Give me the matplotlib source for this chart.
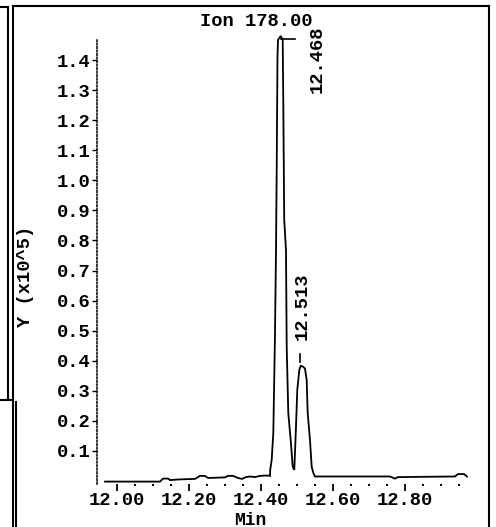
import matplotlib
matplotlib.use('Agg')
import matplotlib.pyplot as plt
from matplotlib.lines import Line2D

# ==================== DATA ====================
# retention time (min) and abundance (x10^5)
time_min = [11.9667, 12.1194, 12.1278, 12.1417, 12.1472, 12.1694, 12.2167, 12.2306,
            12.2444, 12.2528, 12.3000, 12.3083, 12.3222, 12.3361, 12.3472, 12.3583,
            12.3694, 12.3833, 12.3972, 12.4111, 12.4194, 12.4250,
            12.4255, 12.4297, 12.4342, 12.4389, 12.4417, 12.4436, 12.4458, 12.4472,
            12.4547, 12.4603, 12.4618, 12.4645, 12.4694, 12.4714, 12.4758, 12.4825,
            12.4881, 12.4925,
            12.4972, 12.5008, 12.5064, 12.5103, 12.5167, 12.5222, 12.5269, 12.5297,
            12.5361, 12.5408, 12.5453, 12.5500,
            12.5917, 12.7583, 12.7722, 12.7806, 12.9389, 12.9472, 12.9639, 12.9722]
abundance = [-0.002, -0.002, 0.008, 0.008, 0.003, 0.005, 0.007, 0.017,
             0.017, 0.010, 0.012, 0.017, 0.017, 0.010, 0.007, 0.013,
             0.015, 0.013, 0.017, 0.018, 0.018, 0.017,
             0.037, 0.070, 0.160, 0.492, 0.768, 1.034, 1.410, 1.467,
             1.480, 1.467, 1.277, 0.868, 0.768, 0.446, 0.226, 0.136,
             0.047, 0.037,
             0.180, 0.303, 0.369, 0.383, 0.380, 0.374, 0.336, 0.226,
             0.136, 0.047, 0.027, 0.015,
             0.015, 0.015, 0.008, 0.013, 0.015, 0.023, 0.023, 0.015]

peak_labels = ['12.468', '12.513']
peak_label_t = [12.5556, 12.5139]
peak_label_y = [1.290, 0.469]

xtick_vals = [12.0, 12.2, 12.4, 12.6, 12.8]
xtick_labels = ['12.00', '12.20', '12.40', '12.60', '12.80']
xminor_vals = [12.05, 12.10, 12.15, 12.25, 12.30, 12.35, 12.45, 12.50, 12.55,
               12.65, 12.70, 12.75, 12.85, 12.90, 12.95]
ytick_vals = [0.1, 0.2, 0.3, 0.4, 0.5, 0.6, 0.7, 0.8, 0.9, 1.0, 1.1, 1.2, 1.3, 1.4]
ytick_labels = ['0.1', '0.2', '0.3', '0.4', '0.5', '0.6', '0.7', '0.8', '0.9',
                '1.0', '1.1', '1.2', '1.3', '1.4']

title = 'Ion 178.00'
# ==============================================

W, H = 496, 527
FS = 13.5
plt.rcParams['font.family'] = 'Liberation Mono'
plt.rcParams['font.weight'] = 'bold'
plt.rcParams['axes.labelweight'] = 'bold'

fig = plt.figure(figsize=(W / 100, H / 100), dpi=100)
fig.patch.set_facecolor('white')

# axes box in pixels: left 97, right 470, top 40, bottom 484
ax = fig.add_axes([97 / W, (H - 484) / H, (470 - 97) / W, (484 - 40) / H])
ax.set_xlim(11.9444, 12.9806)
ax.set_ylim(-0.010, 1.4666)

ax.plot(time_min, abundance, color='black', lw=1.3, clip_on=False, solid_joinstyle='miter')

# peak apex markers
ax.plot([12.4547, 12.4944], [1.4683, 1.4683], color='black', lw=1.2, clip_on=False)
ax.plot([12.5083, 12.5083], [0.396, 0.422], color='black', lw=1.2)
for lbl, t, yv in zip(peak_labels, peak_label_t, peak_label_y):
    ax.text(t, yv, lbl, rotation=90, ha='center', va='bottom', fontsize=FS)

for s in ['top', 'right', 'bottom']:
    ax.spines[s].set_visible(False)
ax.spines['left'].set_linestyle((0, (1, 1.3)))
ax.spines['left'].set_linewidth(1.1)

ax.set_xticks(xtick_vals)
ax.set_xticklabels(xtick_labels, fontsize=FS)
ax.set_xticks(xminor_vals, minor=True)
ax.set_yticks(ytick_vals)
ax.set_yticklabels(ytick_labels, fontsize=FS)
ax.tick_params(axis='x', which='major', direction='out', length=5, width=1.3, pad=1)
ax.tick_params(axis='x', which='minor', direction='out', length=1.5, width=1.5)
ax.tick_params(axis='y', which='major', direction='out', length=3.5, width=1.0, pad=1)

ax.set_xlabel('Min', fontsize=13)
ax.xaxis.set_label_coords(0.41, -0.063)
ax.set_ylabel('Y (x10^5)', fontsize=FS)
ax.yaxis.set_label_coords(-0.17, 0.468)

fig.text(256 / W, 1 - 21 / H, title, ha='center', va='center', fontsize=FS)


# ============ page frame lines (pixels) ============
def frame_line(x0, y0, x1, y1):
    fig.add_artist(Line2D([x0 / W, x1 / W], [1 - y0 / H, 1 - y1 / H],
                          transform=fig.transFigure, color='black', lw=1.5))


frame_line(13, 6, 489, 6)
frame_line(0, 7, 8, 7)
frame_line(489, 6, 489, 527)
frame_line(8, 7, 8, 400)
frame_line(13, 6, 13, 527)
frame_line(0, 400, 13, 400)
frame_line(16, 402, 16, 527)

fig.savefig('out.png', dpi=100, facecolor='white')
